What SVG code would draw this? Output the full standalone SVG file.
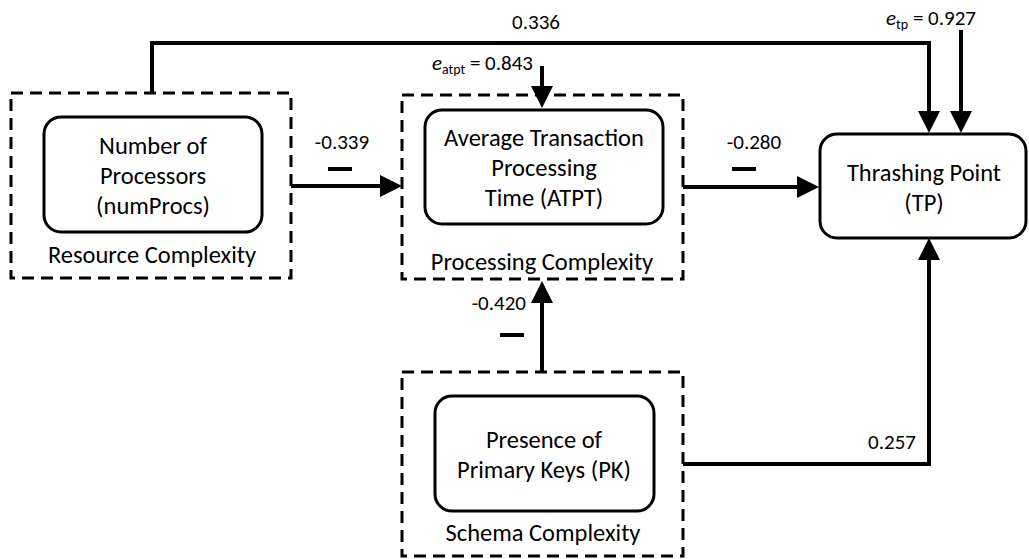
<svg xmlns="http://www.w3.org/2000/svg" width="1029" height="559" viewBox="0 0 1029 559">
<style>
text{font-family:Carlito,Calibri,Lato,"Liberation Sans",sans-serif;fill:#000}
.n{font-size:24.5px;text-anchor:middle}
.l{font-size:21px}
.m{text-anchor:middle}
.grp{fill:none;stroke:#000;stroke-width:3;stroke-dasharray:12 7}
.box{fill:#fff;stroke:#000;stroke-width:3}
.c{fill:none;stroke:#000;stroke-width:4;stroke-linejoin:miter}
.bar{fill:#000}
</style>
<defs>
<marker id="ah" markerUnits="userSpaceOnUse" markerWidth="22" markerHeight="22" refX="0" refY="11" orient="auto" viewBox="0 0 22 22">
<path d="M0,0 L22,11 L0,22 Z" fill="#000"/>
</marker>
</defs>
<rect width="1029" height="559" fill="#fff"/>

<g id="resource-complexity">
<rect class="grp" x="11" y="93" width="280" height="185"/>
<text class="n" x="152" y="263">Resource Complexity</text>
</g>
<g id="numProcs">
<rect class="box" x="44" y="117" width="218" height="115" rx="17"/>
<text class="n" x="153" y="154">Number of</text>
<text class="n" x="153" y="184">Processors</text>
<text class="n" x="153" y="214">(numProcs)</text>
</g>

<g id="processing-complexity">
<rect class="grp" x="402" y="95" width="281" height="184"/>
<text class="n" x="542" y="270">Processing Complexity</text>
</g>
<g id="atpt">
<rect class="box" x="425" y="110" width="238" height="114" rx="17"/>
<text class="n" x="544" y="146">Average Transaction</text>
<text class="n" x="544" y="176">Processing</text>
<text class="n" x="544" y="206">Time (ATPT)</text>
</g>

<g id="schema-complexity">
<rect class="grp" x="402" y="372" width="281" height="184"/>
<text class="n" x="543" y="541">Schema Complexity</text>
</g>
<g id="pk">
<rect class="box" x="435" y="396" width="219" height="115" rx="17"/>
<text class="n" x="544" y="448">Presence of</text>
<text class="n" x="544" y="478">Primary Keys (PK)</text>
</g>

<g id="tp">
<rect class="box" x="820" y="134" width="206" height="104" rx="17"/>
<text class="n" x="924" y="181">Thrashing Point</text>
<text class="n" x="924" y="211">(TP)</text>
</g>

<g id="connectors">
<path class="c" d="M152,93 V43 H929 V111" marker-end="url(#ah)"/>
<path class="c" d="M961,30 V111" marker-end="url(#ah)"/>
<path class="c" d="M542,66 V86" marker-end="url(#ah)"/>
<path class="c" d="M291,186 H380" marker-end="url(#ah)"/>
<path class="c" d="M683,187 H797" marker-end="url(#ah)"/>
<path class="c" d="M542,372 V303" marker-end="url(#ah)"/>
<path class="c" d="M683,464 H929 V260" marker-end="url(#ah)"/>
<rect class="bar" x="328" y="167" width="24" height="4"/>
<rect class="bar" x="732" y="167" width="24" height="4"/>
<rect class="bar" x="500" y="333" width="24" height="4"/>
<text class="l m" x="536" y="29">0.336</text>
<text class="l m" x="342" y="149">-0.339</text>
<text class="l m" x="754" y="149">-0.280</text>
<text class="l" x="526" y="310" text-anchor="end">-0.420</text>
<text class="l m" x="892" y="449">0.257</text>
<text class="l" x="533" y="70" text-anchor="end"><tspan font-style="italic">e</tspan><tspan font-size="14" dy="4">atpt</tspan><tspan dy="-4"> = 0.843</tspan></text>
<text class="l" x="976" y="25" text-anchor="end"><tspan font-style="italic">e</tspan><tspan font-size="14" dy="4">tp</tspan><tspan dy="-4"> = 0.927</tspan></text>
</g>
</svg>
